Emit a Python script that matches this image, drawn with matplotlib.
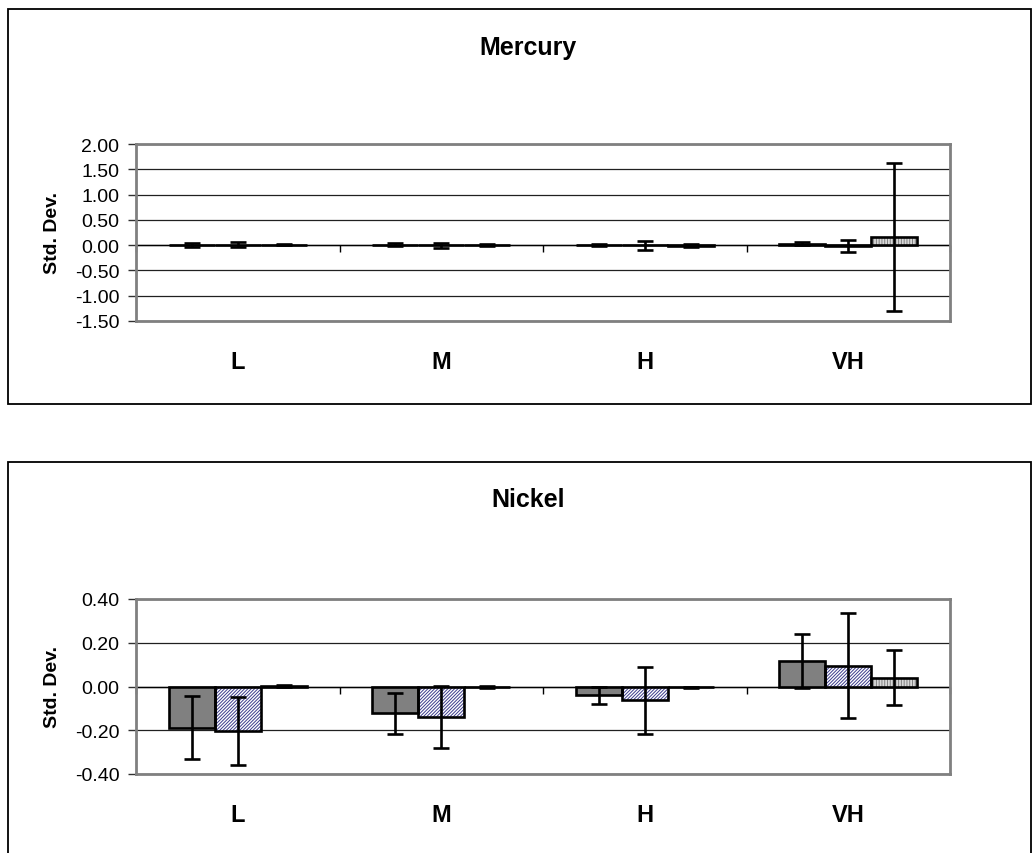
import matplotlib.pyplot as plt
import numpy as np
from matplotlib.patches import Rectangle

plt.rcParams['font.family'] = ['Liberation Sans', 'DejaVu Sans']
plt.rcParams['hatch.linewidth'] = 0.7

categories = ['L', 'M', 'H', 'VH']

# mercury: one list per series (dark gray, blue hatched, light striped)
hg_vals = [[0.01, 0.01, 0.01, 0.03],
           [0.01, 0.00, 0.00, -0.014],
           [0.005, 0.00, -0.01, 0.16]]
hg_errs = [[0.04, 0.03, 0.02, 0.03],
           [0.05, 0.05, 0.09, 0.12],
           [0.01, 0.02, 0.03, 1.46]]
hg_ticks = [2.0, 1.5, 1.0, 0.5, 0.0, -0.5, -1.0, -1.5]

# nickel
ni_vals = [[-0.188, -0.123, -0.041, 0.117],
           [-0.203, -0.140, -0.062, 0.096],
           [0.003, -0.003, -0.004, 0.040]]
ni_errs = [[0.144, 0.092, 0.040, 0.122],
           [0.155, 0.143, 0.153, 0.240],
           [0.004, 0.004, 0.003, 0.126]]
ni_ticks = [0.4, 0.2, 0.0, -0.2, -0.4]

face = ['#808080', 'white', '#d8d8d8']
hatch = [None, '//////////', '||||||']
hatch_col = ['#808080', '#3c3c8c', '#808080']
W = 1032
H = 854


def draw(ax, vals, errs, ticks, title, title_y):
    x = np.arange(len(categories))
    w = 0.226
    for i in range(3):
        pos = x + (i - 1) * w
        ax.bar(pos, vals[i], w, color=face[i], hatch=hatch[i],
               edgecolor=hatch_col[i], lw=0, zorder=3)
        ax.bar(pos, vals[i], w, facecolor='none', edgecolor='black',
               lw=1.9, zorder=4)
        ax.errorbar(pos, vals[i], yerr=errs[i], fmt='none', ecolor='black',
                    elinewidth=1.9, capsize=6, capthick=1.9, zorder=5)
    lo, hi = min(ticks), max(ticks)
    ax.set_ylim(lo, hi)
    ax.set_xlim(-0.5, len(categories) - 0.5)
    ax.set_yticks(ticks, ['%.2f' % t for t in ticks])
    ax.yaxis.grid(True, color='#202020', lw=0.9)
    ax.set_axisbelow(True)
    ax.axhline(0, color='black', lw=1.0, zorder=2)
    tl = 0.04 * (hi - lo)
    ax.vlines(np.arange(len(categories) + 1) - 0.5, -tl, 0, color='black',
              lw=1.0, zorder=2, clip_on=False)
    ax.set_xticks(x, categories, fontsize=17, fontweight='bold')
    ax.tick_params(axis='x', length=0, pad=21)
    ax.tick_params(axis='y', labelsize=14, length=6, width=1.0, pad=6,
                   color='#303030')
    for s in ax.spines.values():
        s.set_color('#808080')
        s.set_linewidth(2)
    ax.set_ylabel('Std. Dev.', fontsize=14, fontweight='bold', labelpad=10)
    fig.text(528 / W, 1 - title_y / H, title, fontsize=18, fontweight='bold',
             ha='center', va='center')


fig = plt.figure(figsize=(W / 100, H / 100), dpi=100)

fig.patches.append(Rectangle((8 / W, 1 - 405 / H), 1023 / W, 395 / H,
                             transform=fig.transFigure, fill=False,
                             edgecolor='black', lw=1.3))
fig.patches.append(Rectangle((8 / W, -0.05), 1023 / W, 0.05 + 1 - 463 / H,
                             transform=fig.transFigure, fill=False,
                             edgecolor='black', lw=1.3))

ax1 = fig.add_axes([136 / W, 1 - 322 / H, 814 / W, 177 / H])
draw(ax1, hg_vals, hg_errs, hg_ticks, 'Mercury', 48)

ax2 = fig.add_axes([136 / W, 1 - 775 / H, 814 / W, 175 / H])
draw(ax2, ni_vals, ni_errs, ni_ticks, 'Nickel', 500)

fig.savefig('out.png', dpi=100)
